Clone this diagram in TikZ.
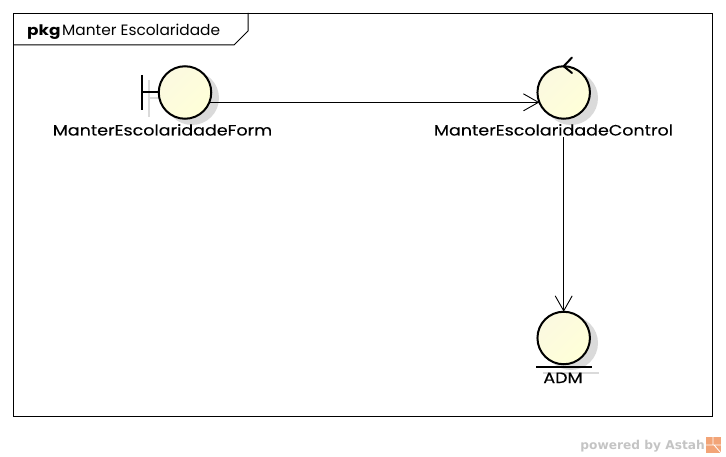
\documentclass[tikz,border=0pt]{standalone}
\usepackage{fontspec}
\setmainfont{Poppins}
\newfontfamily\wmfont{DejaVu Sans}
\newfontfamily\lblfont[FakeStretch=1.165,FakeBold=0.25]{Poppins}
\newfontfamily\kwfont[FakeStretch=1.165]{Poppins}
\newfontfamily\titlefont[FakeStretch=1.025]{Poppins}
\usetikzlibrary{arrows.meta}
\definecolor{shadowgray}{HTML}{DADADA}
\definecolor{wm}{HTML}{C4C4C4}
\definecolor{astah}{HTML}{F2A477}
\definecolor{discA}{HTML}{FFFFD8}
\definecolor{discB}{HTML}{FFFFD8}
\definecolor{discC}{HTML}{FBF9E0}
\tikzset{
  robust/.style={circle,draw=black,line width=2pt,minimum size=52.5pt,inner sep=0pt,outer sep=0pt,
    top color=discC,middle color=discB,bottom color=discA,shading angle=45},
  shadowdisc/.style={circle,fill=shadowgray,minimum size=54pt,inner sep=0pt,outer sep=0pt},
  shadowbar/.style={shadowgray,line width=2pt},
  thickbar/.style={black,line width=2pt},
  conn/.style={black,line width=0.9pt,-{Straight Barb[length=15pt,width=17pt,line width=0.9pt]}},
  lbl/.style={font=\fontsize{15}{17}\selectfont\lblfont,anchor=base,inner sep=0pt},
}
\begin{document}
\begin{tikzpicture}[x=1pt,y=-1pt]
\useasboundingbox (0,0) rectangle (726,457);
% frame
\node[draw=black,line width=1pt,minimum width=699pt,minimum height=403pt,inner sep=0pt,anchor=north west] (frame) at (13,13) {};
\draw[black,line width=1pt] (13,45) -- (234,45) -- (248,31) -- (248,13);
\node[anchor=base west,inner sep=0pt,font=\fontsize{14.5}{15}\selectfont\kwfont\bfseries] (kw) at (27,36) {pkg};
\node[anchor=base west,inner sep=0pt,font=\fontsize{15}{17}\selectfont\titlefont] (title) at (62,36) {Manter Escolaridade};
% shadows
\node[shadowdisc] (s1) at (192,98) {};
\node[shadowdisc] (s2) at (571,98) {};
\node[shadowdisc] (s3) at (571,343) {};
\draw[shadowbar] (149,80) -- (149,117);
\draw[shadowbar] (149,98) -- (165,98);
\draw[shadowbar] (543,373) -- (599,373);
% symbols
\node[robust] (form) at (185,92.5) {};
\node[robust] (ctl) at (563.7,92.5) {};
\node[robust] (adm) at (563.7,338) {};
% boundary
\coordinate (bartop) at (142,75);
\coordinate (barbot) at (142,110);
\coordinate (barmid) at (142,92.5);
\draw[thickbar] (bartop) -- (barbot);
\draw[thickbar] (barmid) -- (form.west);
% control
\draw[thickbar,line cap=round] (572,57.5) -- (ctl.north) -- (572,73);
% entity
\draw[thickbar] (536,366.5) -- (592,366.5);
% labels
\node[lbl] (formL) at (162.5,135.5) {ManterEscolaridadeForm};
\node[lbl] (ctlL) at (553.5,135.5) {ManterEscolaridadeControl};
\node[lbl] (admL) at (563,383) {ADM};
% connectors
\draw[conn] (form.-22.5) -- (ctl.202.5);
\draw[conn] (ctl.south |- ctlL.south) ++(0,1) -- (adm.north);
% watermark
\node[anchor=base east,inner sep=0pt,text=wm,font=\fontsize{12.2}{15}\selectfont\wmfont\bfseries] (wmk) at (705,449) {powered by Astah};
\fill[astah] (706,437) rectangle (721,453);
\draw[white,line width=0.8pt] (713,437) -- (713,445) (706,445) -- (721,445) (714,445) -- (721,453);
\end{tikzpicture}
\end{document}
